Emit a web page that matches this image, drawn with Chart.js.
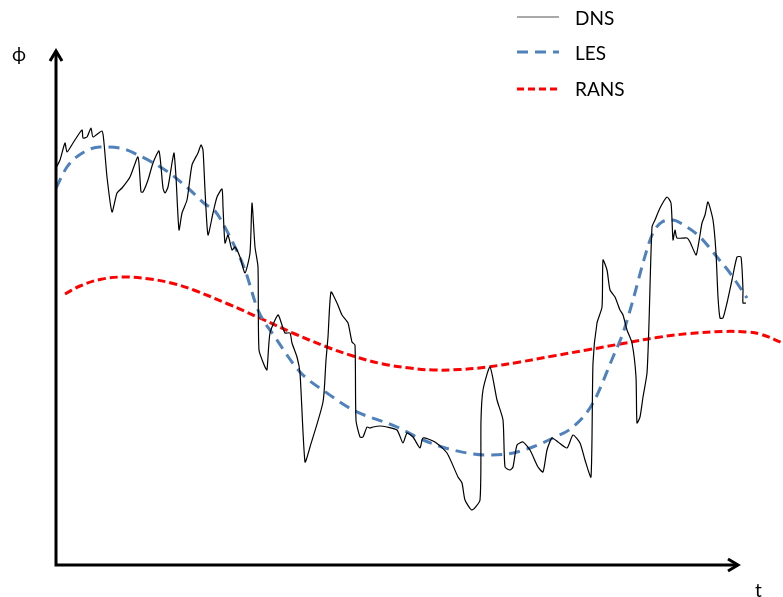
<!DOCTYPE html>
<html>
<head>
<meta charset="utf-8">
<script src="https://cdn.jsdelivr.net/npm/chart.js@4.4.1/dist/chart.umd.min.js"></script>
<style>
  html, body { margin: 0; padding: 0; background: #fff; }
  #wrap { position: relative; width: 783px; height: 597px; }
  canvas { position: absolute; left: 0; top: 0; }
  .lbl { position: absolute; font-family: Lato, "Open Sans", sans-serif; font-size: 19px; color: #000; line-height: 1; }
  .leg svg { position: absolute; }
</style>
</head>
<body>
<div id="wrap">
  <canvas id="grafico" width="783" height="597"></canvas>
  <div class="leg">
    <svg style="left:517px;top:10px" width="42" height="14"><line x1="0" y1="7" x2="42" y2="7" stroke="#555" stroke-width="1.2"/></svg>
    <svg style="left:517px;top:45px" width="42" height="14"><line x1="0" y1="7" x2="42" y2="7" stroke="#4f81bd" stroke-width="3" stroke-dasharray="11,7"/></svg>
    <svg style="left:517px;top:82px" width="42" height="14"><line x1="0" y1="7" x2="42" y2="7" stroke="#ff0000" stroke-width="3" stroke-dasharray="7,4"/></svg>
  </div>
  <div class="lbl" style="left:575px;top:8px">DNS</div>
  <div class="lbl" style="left:575px;top:43px">LES</div>
  <div class="lbl" style="left:575px;top:79px">RANS</div>
  <div class="lbl" style="left:12px;top:44px">ϕ</div>
  <div class="lbl" style="left:755px;top:580px">t</div>
</div>
<script>
// valores (t en pasos, phi en unidades arbitrarias)
const tiempoDNS = [0,4,9,11,17,26,27,31,35,37,46,48,51,56,61,66,74,82,85,87,92,97,103,107,109,112,116,118,120,123,126,131,136,142,145,147,149,152,157,161,166,167,169,172,176,179,184,189,194,196,199,202,203,209,211,214,222,226,229,234,236,241,244,249,254,267,270,272,275,281,286,292,296,299,300,304,307,311,314,317,324,331,341,347,351,357,364,367,379,391,402,406,409,416,424,425,427,434,441,447,449,454,457,461,467,474,482,487,491,496,502,511,517,524,529,535,537,541,546,547,551,554,559,564,567,571,576,580,581,584,587,591,593,596,599,604,611,615,617,619,621,631,634,640,642,644,646,649,652,657,660,662,664,667,671,676,681,685,687,687,690];
const phiDNS = [397,405,422,413,422,435,427,428,437,428,434,422,388,353,372,377,388,408,373,373,385,402,414,377,372,378,402,412,388,335,352,365,400,412,420,415,375,330,352,368,376,358,322,330,315,318,308,292,312,362,318,298,215,198,195,232,250,240,232,232,222,208,192,103,118,163,205,228,273,262,250,242,223,220,145,128,128,138,137,138,139,138,135,122,132,128,117,127,123,112,88,82,65,55,65,145,175,198,165,145,98,95,98,120,123,115,98,93,115,127,123,117,130,122,105,88,202,242,258,305,295,275,268,255,250,235,222,188,142,148,168,192,242,338,345,357,368,362,325,335,327,327,323,310,318,330,342,350,363,345,312,268,247,247,262,285,308,308,275,262,262];

const tiempoLES = [0,11,28,44,64,82,112,134,149,159,172,189,202,219,244,271,297,341,367,397,431,451,474,497,517,537,557,567,577,587,596,606,616,631,644,661,674,691];
const phiLES = [377,398,413,418,417,410,393,375,361,354,332,295,255,228,193,172,155,138,125,115,110,111,117,127,138,162,208,232,265,302,330,343,345,338,328,308,292,267];

const tiempoRANS = [9,24,44,67,94,119,139,172,206,239,271,297,327,354,377,404,431,464,497,531,567,601,634,667,691,704,727];
const phiRANS = [271,279,285.5,288,286,281,274.5,261,246,231,218,209,201,197,195,195.5,198,203,209,215,221.5,227.5,231.5,233.5,233,231,222];

function puntos(ts, ys) {
    return ts.map((t, i) => ({ x: t, y: ys[i] }));
}

// ejes con flechas
const ejes = {
    id: 'ejes',
    afterDraw(chart) {
        const ctx = chart.ctx;
        const a = chart.chartArea;
        const x0 = a.left, y0 = a.bottom;
        const yTop = 50, xEnd = 739;
        ctx.save();
        ctx.strokeStyle = '#000';
        ctx.lineWidth = 3;
        ctx.lineCap = 'butt';
        ctx.beginPath();
        ctx.moveTo(x0, y0 + 1.5);
        ctx.lineTo(x0, yTop + 1);
        ctx.moveTo(x0 - 1.5, y0);
        ctx.lineTo(xEnd - 1, y0);
        ctx.stroke();
        ctx.lineJoin = 'miter';
        ctx.beginPath();
        ctx.moveTo(x0 - 6, yTop + 11);
        ctx.lineTo(x0, yTop + 1);
        ctx.lineTo(x0 + 6, yTop + 11);
        ctx.moveTo(xEnd - 11, y0 - 6);
        ctx.lineTo(xEnd - 1, y0);
        ctx.lineTo(xEnd - 11, y0 + 6);
        ctx.stroke();
        ctx.restore();
    }
};

new Chart(document.getElementById('grafico'), {
    type: 'line',
    data: {
        datasets: [
            {
                label: 'DNS',
                data: puntos(tiempoDNS, phiDNS),
                borderColor: '#000',
                borderWidth: 1.2,
                pointRadius: 0,
                tension: 0.2
            },
            {
                label: 'LES',
                data: puntos(tiempoLES, phiLES),
                borderColor: '#4f81bd',
                borderWidth: 3,
                borderDash: [11, 7],
                pointRadius: 0,
                cubicInterpolationMode: 'monotone'
            },
            {
                label: 'RANS',
                data: puntos(tiempoRANS, phiRANS),
                borderColor: '#ff0000',
                borderWidth: 3,
                borderDash: [8, 4],
                pointRadius: 0,
                tension: 0.4
            }
        ]
    },
    options: {
        responsive: false,
        animation: false,
        layout: { padding: { left: 56, right: 0, top: 0, bottom: 32 } },
        plugins: { legend: { display: false }, tooltip: { enabled: false } },
        scales: {
            x: { type: 'linear', min: 0, max: 727, display: false },
            y: { min: 0, max: 565, display: false }
        }
    },
    plugins: [ejes]
});
</script>
</body>
</html>
